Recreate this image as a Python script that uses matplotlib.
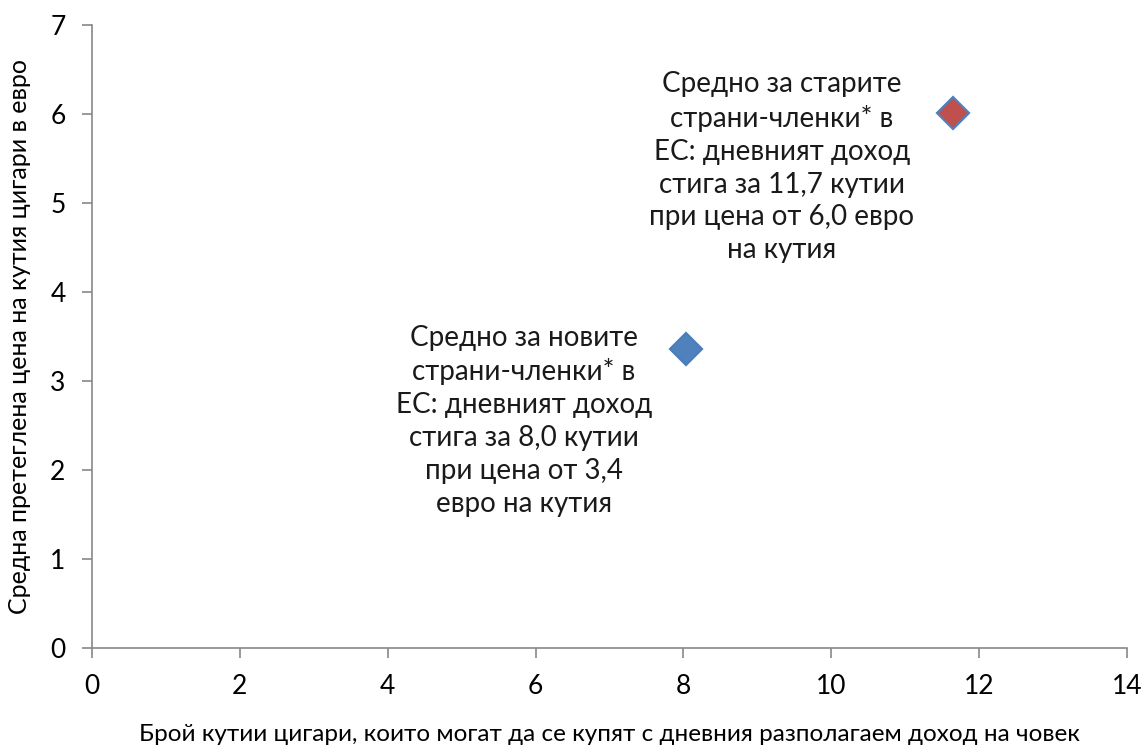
import matplotlib
matplotlib.use("Agg")
import matplotlib.pyplot as plt

x_vals = [8.03, 11.65]
y_vals = [3.36, 6.01]
fill_colors = ["#4F81BD", "#C0504D"]
edge_colors = ["#4A7EBB", "#4F81BD"]
annotations = [
    "Средно за новите\nстрани-членки* в\nЕС: дневният доход\nстига за 8,0 кутии\nпри цена от 3,4\nевро на кутия",
    "Средно за старите\nстрани-членки* в\nЕС: дневният доход\nстига за 11,7 кутии\nпри цена от 6,0 евро\nна кутия",
]
ann_pos = [(5.84, 2.55), (9.33, 5.4)]
x_ticks = [0, 2, 4, 6, 8, 10, 12, 14]
y_ticks = [0, 1, 2, 3, 4, 5, 6, 7]
x_label = "Брой кутии цигари, които могат да се купят с дневния разполагаем доход на човек"
y_label = "Средна претеглена цена на кутия цигари в евро"

plt.rcParams['font.family'] = ['Lato', 'DejaVu Sans']

fig = plt.figure(figsize=(11.46, 7.46), dpi=100)
ax = fig.add_axes([92/1146, 1-648/746, (1127-92)/1146, (648-25)/746])

for x, y, fc, ec in zip(x_vals, y_vals, fill_colors, edge_colors):
    ax.plot([x], [y], marker='D', markersize=16, markerfacecolor=fc,
            markeredgecolor=ec, markeredgewidth=1.6, linestyle='none')

for txt, (tx, ty) in zip(annotations, ann_pos):
    ax.text(tx, ty, txt, ha='center', va='center', fontsize=20,
            linespacing=1.33, color='#1a1a1a')

ax.set_xlim(0, 14)
ax.set_ylim(0, 7)
ax.set_xticks(x_ticks)
ax.set_yticks(y_ticks)
for s in ['top', 'right']:
    ax.spines[s].set_visible(False)
for s in ['left', 'bottom']:
    ax.spines[s].set_color('#888888')
    ax.spines[s].set_linewidth(1.2)
ax.tick_params(axis='both', direction='out', length=7, width=1.2,
               color='#888888', labelsize=19, pad=12, labelcolor='black')
ax.set_xlabel(x_label, fontsize=17.5, labelpad=18)
ax.set_ylabel(y_label, fontsize=18, labelpad=14)

fig.savefig("out.png", dpi=100)
